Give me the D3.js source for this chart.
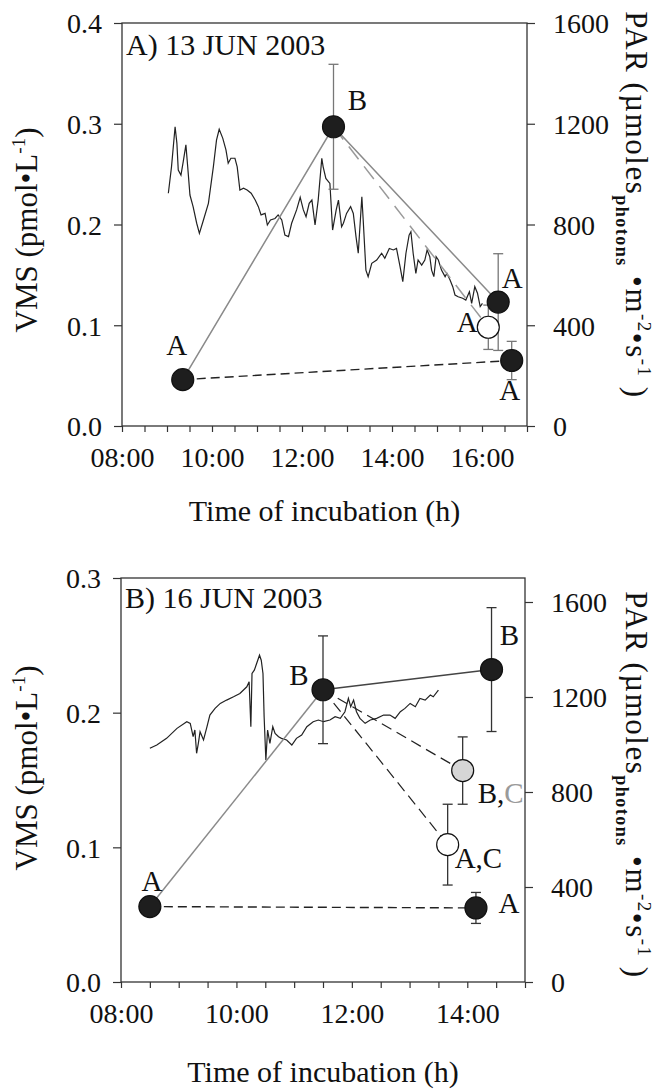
<!DOCTYPE html>
<html>
<head>
<meta charset="utf-8">
<script src="https://cdn.jsdelivr.net/npm/d3@7"></script>
<style>
body { margin: 0; background: #fff; }
svg text { font-family: "Liberation Serif", "Times New Roman", Times, serif; fill: #111; }
</style>
</head>
<body>
<svg id="chart" width="665" height="1089"></svg>
<script>
// ---- panel A : 13 JUN 2003 ----
var timeA = [9.35, 12.70, 16.36, 16.14, 16.66];
var vmsA = [0.046, 0.297, 0.123, 0.098, 0.065];
var errA = [0, 0.062, 0.048, 0.022, 0.019];
var kindA = ["filled", "filled", "filled", "open", "filled"];
var letterA = ["A", "B", "A", "A", "A"];

var parTimeA = [9.03, 9.10, 9.18, 9.22, 9.25, 9.31, 9.36, 9.42, 9.46, 9.51, 9.58, 9.66, 9.72, 9.81, 9.92,
	10.03, 10.10, 10.16, 10.24, 10.31, 10.36, 10.42, 10.51, 10.56, 10.62, 10.70, 10.78, 10.87, 10.96,
	11.03, 11.09, 11.18, 11.23, 11.30, 11.40, 11.47, 11.55, 11.62, 11.70, 11.77, 11.88, 11.96,
	12.03, 12.09, 12.16, 12.22, 12.29, 12.36, 12.44, 12.47, 12.53, 12.62, 12.68, 12.76, 12.81, 12.88, 12.92, 12.99,
	13.08, 13.14, 13.20, 13.25, 13.33, 13.36, 13.42, 13.47, 13.55, 13.66, 13.77, 13.84, 13.94,
	14.03, 14.10, 14.18, 14.24, 14.31, 14.38, 14.42, 14.47, 14.53, 14.58, 14.66, 14.73, 14.78, 14.84, 14.88, 14.93, 14.98,
	15.03, 15.10, 15.18, 15.22, 15.29, 15.35, 15.40, 15.47, 15.57, 15.64, 15.72, 15.77, 15.84, 15.90, 15.96, 16.01];
var parA = [924, 1029, 1188, 1122, 1016, 996, 1049, 1116, 1029, 917, 871, 805, 765, 818, 884,
	1029, 1135, 1178, 1142, 1096, 1043, 1063, 1063, 1029, 937, 944, 937, 924, 897,
	871, 838, 844, 798, 818, 824, 838, 818, 758, 752, 805, 858, 908,
	858, 831, 884, 897, 798, 897, 1063, 1029, 983, 963, 778, 858, 897, 791, 805, 844,
	871, 844, 752, 686, 910, 818, 619, 593, 646, 659, 686, 666, 705,
	699, 705, 632, 573, 686, 758, 771, 686, 606, 659, 639, 659, 699, 672, 619, 593, 672,
	659, 619, 593, 606, 580, 553, 520, 513, 507, 500, 533, 487, 553, 527, 474, 487];

// ---- panel B : 16 JUN 2003 ----
var timeB = [8.50, 11.50, 14.42, 13.92, 13.66, 14.15];
var vmsB = [0.056, 0.217, 0.232, 0.157, 0.102, 0.055];
var errB = [0, 0.040, 0.046, 0.025, 0.030, 0.0115];
var kindB = ["filled", "filled", "filled", "grey", "open", "filled"];
var letterB = ["A", "B", "B", "B,C", "A,C", "A"];

var parTimeB = [8.50, 8.62, 8.79, 8.97, 9.14, 9.20, 9.25, 9.28, 9.31, 9.34, 9.37, 9.43, 9.49, 9.54, 9.63, 9.72, 9.83, 9.95,
	10.06, 10.18, 10.22, 10.25, 10.27, 10.31, 10.35, 10.40, 10.43, 10.46, 10.48, 10.51, 10.54, 10.58, 10.63, 10.67, 10.73, 10.78, 10.87, 10.96,
	11.04, 11.13, 11.22, 11.33, 11.42, 11.51, 11.62, 11.71, 11.80, 11.88, 11.94, 11.98,
	12.03, 12.08, 12.14, 12.23, 12.32, 12.43, 12.55, 12.66, 12.75, 12.84, 12.92,
	13.01, 13.10, 13.18, 13.27, 13.36, 13.41, 13.50];
var parB = [984, 998, 1026, 1068, 1096, 1089, 1033, 1061, 963, 1005, 1054, 1019, 1075, 1124, 1152, 1173, 1187, 1201,
	1215, 1243, 1264, 1075, 1299, 1313, 1341, 1376, 1355, 1299, 1117, 935, 1061, 1005, 1075, 1047, 1033, 1026, 1019, 998,
	1026, 1040, 1075, 1096, 1103, 1096, 1103, 1117, 1110, 1138, 1194, 1159,
	1187, 1138, 1110, 1089, 1103, 1110, 1124, 1124, 1110, 1138, 1152,
	1173, 1159, 1194, 1187, 1208, 1201, 1229];

// ticks
var vmsTicksA = [0.0, 0.1, 0.2, 0.3, 0.4];
var vmsTicksB = [0.0, 0.1, 0.2, 0.3];
var parTicks = [0, 400, 800, 1200, 1600];
var hourLabelsA = [8, 10, 12, 14, 16];
var hourLabelsB = [8, 10, 12, 14];

var svg = d3.select("#chart");
var serif = '"Liberation Serif", "Times New Roman", Times, serif';

function drawPanel(p) {
	var g = svg.append("g");
	var x = d3.scaleLinear().domain(p.xDomain).range([p.left, p.right]);
	var y = d3.scaleLinear().domain(p.yDomain).range([p.bottom, p.top]);
	var yPar = d3.scaleLinear().domain([0, 1600]).range([p.bottom, p.parTop]);

	// frame
	g.append("rect")
		.attr("x", p.left).attr("y", p.top)
		.attr("width", p.right - p.left).attr("height", p.bottom - p.top)
		.style("fill", "none").style("stroke", "#333").style("stroke-width", 1.3);

	// axes
	var minor = d3.range(p.xDomain[0], p.xDomain[1] + 0.01, 0.5);
	var ax = g.append("g").attr("transform", "translate(0," + p.bottom + ")")
		.call(d3.axisBottom(x).tickValues(minor)
			.tickFormat(function(d) { return p.hourLabels.indexOf(d) >= 0 ? d3.format("02d")(d) + ":00" : ""; })
			.tickSize(6).tickPadding(10));
	var ay = g.append("g").attr("transform", "translate(" + p.left + ",0)")
		.call(d3.axisLeft(y).tickValues(p.vmsTicks).tickFormat(d3.format(".1f")).tickSize(8).tickPadding(12));
	var ar = g.append("g").attr("transform", "translate(" + p.right + ",0)")
		.call(d3.axisRight(yPar).tickValues(parTicks).tickFormat(d3.format("d")).tickSize(8).tickPadding(18));
	[ax, ay, ar].forEach(function(a) {
		a.attr("font-family", serif);
		a.select(".domain").remove();
		a.selectAll("line").style("stroke", "#333").style("stroke-width", 1.2);
		a.selectAll("text").style("font-size", "28px").style("fill", "#111");
	});
	ax.selectAll("text").attr("dy", "0.9em");
	ay.selectAll("text").attr("dy", "0.35em");
	ar.selectAll("text").attr("dy", "0.35em");

	// PAR trace
	var par = p.parTime.map(function(t, i) { return [t, p.par[i]]; });
	g.append("path")
		.datum(par)
		.attr("d", d3.line().x(function(d) { return x(d[0]); }).y(function(d) { return yPar(d[1]); }))
		.style("fill", "none").style("stroke", "#222").style("stroke-width", 1.2);

	// connecting lines
	p.links.forEach(function(l) {
		g.append("path")
			.datum(l.idx)
			.attr("d", d3.line().x(function(i) { return x(p.time[i]); }).y(function(i) { return y(p.vms[i]); }))
			.style("fill", "none").style("stroke", l.color).style("stroke-width", l.width)
			.style("stroke-dasharray", l.dash || null);
	});

	var pts = p.time.map(function(t, i) {
		return { t: t, v: p.vms[i], e: p.err[i], kind: p.kind[i], label: p.letter[i], off: p.labelOff[i] };
	});

	// error bars
	var eb = g.selectAll(".err").data(pts.filter(function(d) { return d.e > 0; }))
		.enter().append("g").attr("class", "err")
		.style("stroke", p.errColor).style("stroke-width", 1.3);
	eb.append("line")
		.attr("x1", function(d) { return x(d.t); }).attr("x2", function(d) { return x(d.t); })
		.attr("y1", function(d) { return y(d.v - d.e); }).attr("y2", function(d) { return y(d.v + d.e); });
	eb.append("line")
		.attr("x1", function(d) { return x(d.t) - 5; }).attr("x2", function(d) { return x(d.t) + 5; })
		.attr("y1", function(d) { return y(d.v + d.e); }).attr("y2", function(d) { return y(d.v + d.e); });
	eb.append("line")
		.attr("x1", function(d) { return x(d.t) - 5; }).attr("x2", function(d) { return x(d.t) + 5; })
		.attr("y1", function(d) { return y(d.v - d.e); }).attr("y2", function(d) { return y(d.v - d.e); });

	// points
	g.selectAll(".pt").data(pts).enter().append("circle")
		.attr("class", "pt")
		.attr("cx", function(d) { return x(d.t); })
		.attr("cy", function(d) { return y(d.v); })
		.attr("r", p.radius)
		.style("fill", function(d) { return d.kind == "filled" ? "#1e1e1e" : d.kind == "grey" ? "#d6d6d6" : "#fff"; })
		.style("stroke", "#111").style("stroke-width", 1.2);

	// significance letters
	var lab = g.selectAll(".lab").data(pts).enter().append("text")
		.attr("class", "lab")
		.attr("x", function(d) { return x(d.t) + d.off[0]; })
		.attr("y", function(d) { return y(d.v) + d.off[1]; })
		.attr("text-anchor", function(d) { return d.off[2] || "middle"; })
		.style("font-size", "29px");
	lab.each(function(d) {
		var parts = d.label.split(",");
		var t = d3.select(this);
		parts.forEach(function(s, k) {
			if (k > 0) t.append("tspan").text(",");
			t.append("tspan").text(s)
				.style("fill", (s == "C" && d.kind == "grey") ? "#9a9a9a" : "#111");
		});
	});

	// panel title
	g.append("text").attr("x", p.left + 4).attr("y", p.titleY)
		.style("font-size", "30px").text(p.title);

	// x title
	g.append("text").attr("x", (p.left + p.right) / 2).attr("y", p.xTitleY)
		.attr("text-anchor", "middle").style("font-size", "30px").text("Time of incubation (h)");

	// left title
	var lt = g.append("text")
		.attr("transform", "translate(" + p.yTitleX + "," + p.yTitleC + ") rotate(-90)")
		.attr("text-anchor", "middle").style("font-size", "31px");
	lt.append("tspan").text("VMS (pmol\u2022L");
	lt.append("tspan").attr("dy", -12).style("font-size", "19px").text("-1");
	lt.append("tspan").attr("dy", 12).text(")");

	// right title
	var rt = g.append("text")
		.attr("transform", "translate(" + p.parTitleX + "," + p.parTitleC + ") rotate(90)")
		.attr("text-anchor", "middle").style("font-size", "31px")
		.style("letter-spacing", "1.5px");
	rt.append("tspan").text("PAR (\u00b5moles");
	rt.append("tspan").attr("dy", 10).style("font-size", "18px").style("font-weight", "bold").text("photons");
	rt.append("tspan").attr("dy", -10).text(" \u2022m");
	rt.append("tspan").attr("dy", -12).style("font-size", "19px").text("-2");
	rt.append("tspan").attr("dy", 12).text("\u2022s");
	rt.append("tspan").attr("dy", -12).style("font-size", "19px").text("-1");
	rt.append("tspan").attr("dy", 12).text(" )");
}

drawPanel({
	xDomain: [8, 17], yDomain: [0, 0.4],
	left: 122, right: 527, top: 23, bottom: 426, parTop: 23,
	vmsTicks: vmsTicksA, hourLabels: hourLabelsA,
	time: timeA, vms: vmsA, err: errA, kind: kindA, letter: letterA,
	parTime: parTimeA, par: parA,
	radius: 11, errColor: "#777",
	links: [
		{ idx: [0, 1, 2], color: "#8a8a8a", width: 1.5 },
		{ idx: [1, 3], color: "#9a9a9a", width: 1.5, dash: "16,9" },
		{ idx: [0, 4], color: "#222", width: 1.4, dash: "9,5" }
	],
	labelOff: [[-6, -25], [24, -17], [14, -14], [-21, 5], [-2, 39]],
	title: "A) 13 JUN 2003", titleY: 55, xTitleY: 521,
	yTitleX: 37, yTitleC: 230, parTitleX: 626, parTitleC: 205
});

drawPanel({
	xDomain: [8, 15], yDomain: [0, 0.3],
	left: 121, right: 525, top: 578, bottom: 982, parTop: 602,
	vmsTicks: vmsTicksB, hourLabels: hourLabelsB,
	time: timeB, vms: vmsB, err: errB, kind: kindB, letter: letterB,
	parTime: parTimeB, par: parB,
	radius: 11, errColor: "#333",
	links: [
		{ idx: [0, 1], color: "#8a8a8a", width: 1.5 },
		{ idx: [1, 2], color: "#444", width: 1.5 },
		{ idx: [1, 3], color: "#222", width: 1.2, dash: "11,6" },
		{ idx: [1, 4], color: "#222", width: 1.2, dash: "11,6" },
		{ idx: [0, 5], color: "#222", width: 1.4, dash: "9,5" }
	],
	labelOff: [[2, -16], [-24, -5], [18, -25], [15, 32, "start"], [7, 23, "start"], [33, 5]],
	title: "B) 16 JUN 2003", titleY: 608, xTitleY: 1082,
	yTitleX: 37, yTitleC: 768, parTitleX: 626, parTitleC: 785
});
</script>
</body>
</html>
